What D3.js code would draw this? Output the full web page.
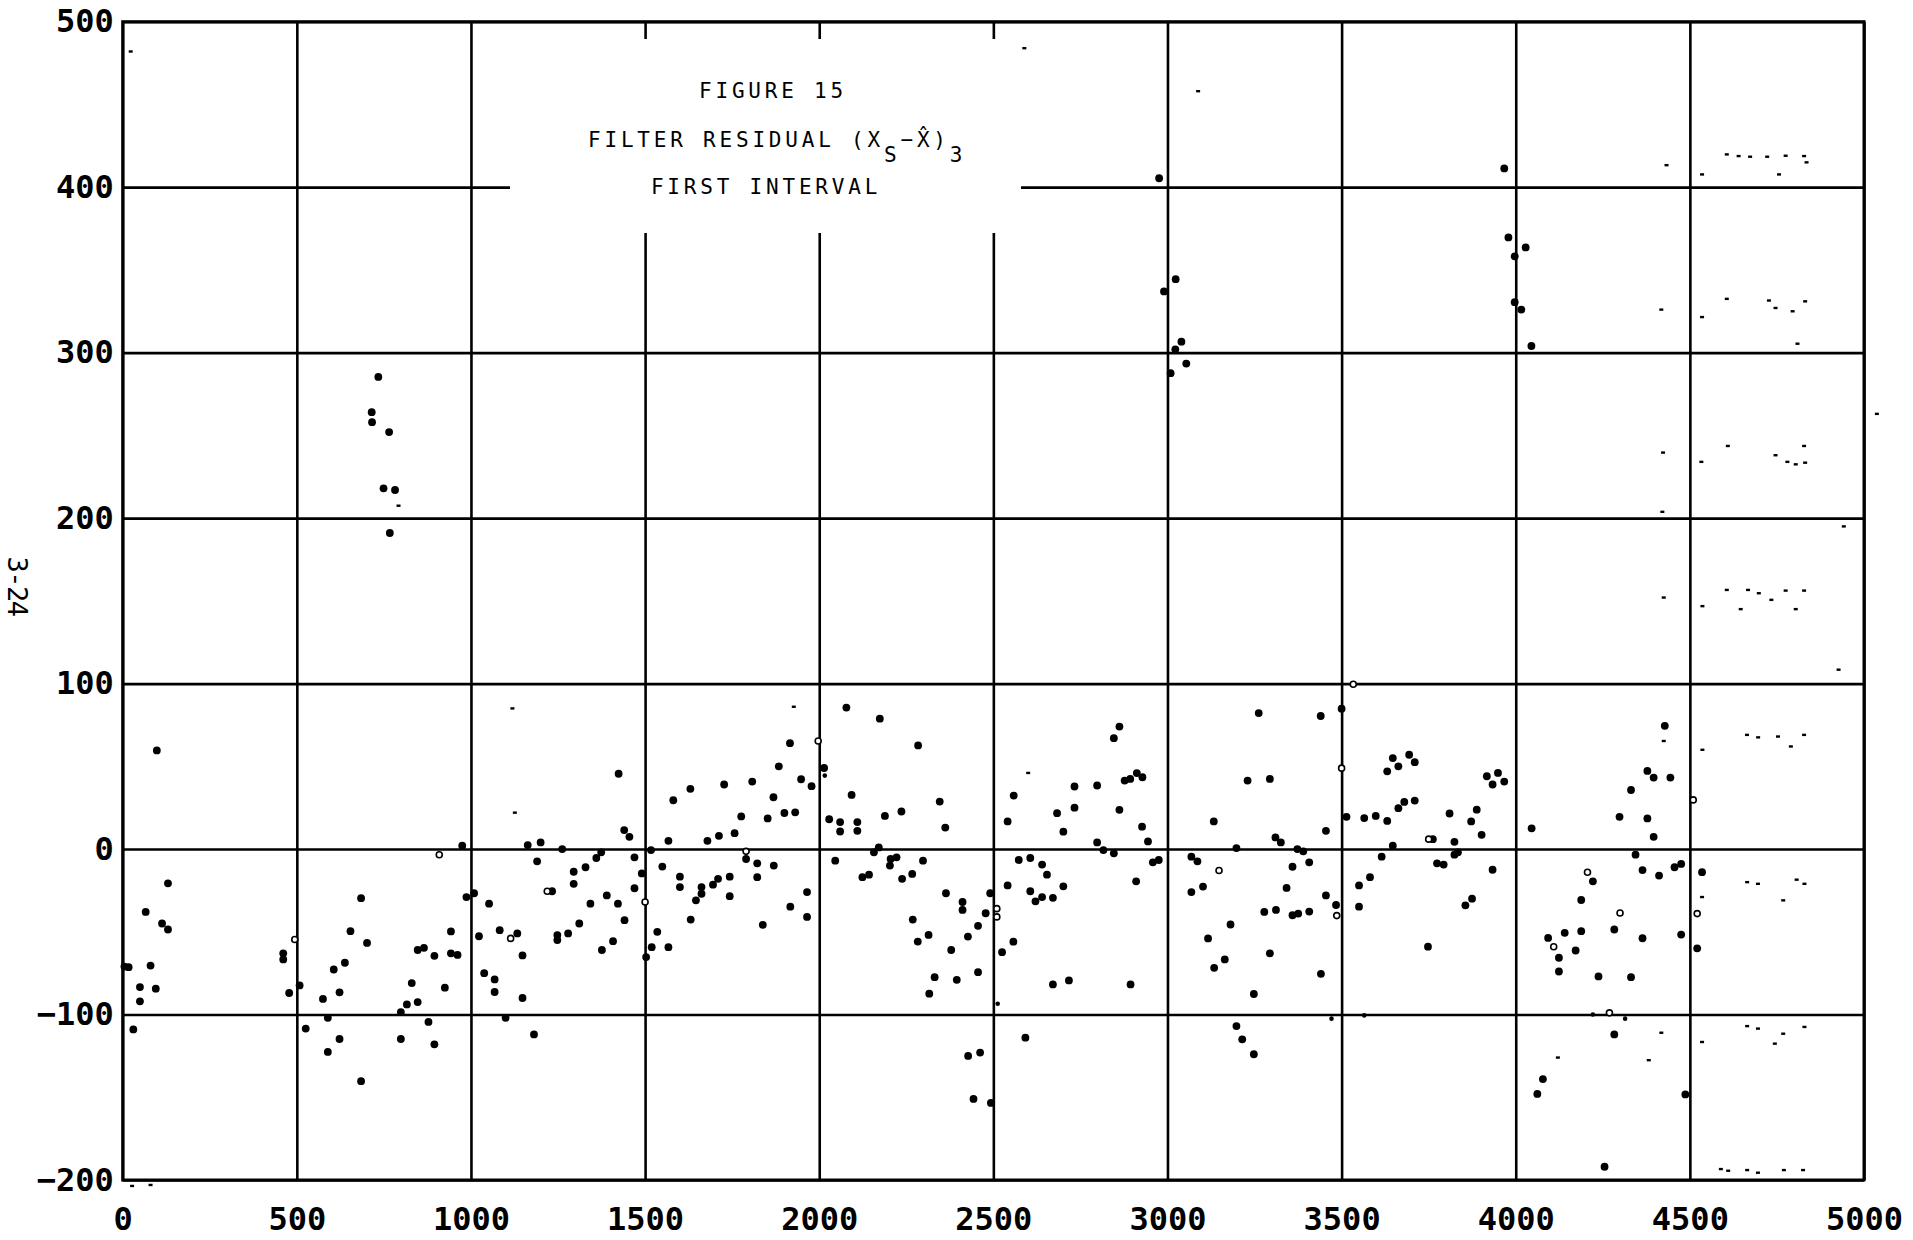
<!DOCTYPE html>
<html>
<head>
<meta charset="utf-8">
<script src="https://cdn.jsdelivr.net/npm/d3@7"></script>
<style>
  html, body { margin: 0; padding: 0; background: #fff; }
  svg { display: block; }
  .tick text { font-family: "DejaVu Sans Mono", monospace; font-size: 32px; font-weight: bold; fill: #000; }
  .title { font-family: "DejaVu Sans Mono", monospace; font-size: 21px; letter-spacing: 3.8px; fill: #000; }
  .page { font-family: "DejaVu Sans Mono", monospace; font-size: 27px; letter-spacing: -1.5px; fill: #000; }
</style>
</head>
<body>
<svg id="chart" width="1913" height="1240"></svg>
<script>
// Axis ticks
const xTicks = [0, 500, 1000, 1500, 2000, 2500, 3000, 3500, 4000, 4500, 5000];
const yTicks = [-200, -100, 0, 100, 200, 300, 400, 500];

// Filter residual samples [time, residual] plotted as solid dots
const residuals = [
  [5,-71],[17,-71.4],[30.5,-109],[49.5,-83.4],[49.5,-92],[66,-38],[80,-70.4],[95,-84.4],[98,59.6],[113,-45],[130,-20.7],[130,-48.6],
  [461,-63],[461,-66.7],[478,-87],
  [508,-82.4],[525.5,-108.5],[575,-90.6],[589,-102],[589,-122.6],[606,-72.8],[622.6,-86.6],[622.6,-114.8],[638,-68.7],[654,-49.6],[684.5,-29.7],[684.5,-140.3],[701.6,-56.7],
  [715,264],[716,258],[734,285.3],[765,252],[749,218],[782,217],[767,191],
  [798.7,-98.5],[798.7,-114.8],[816,-93.9],[830,-81],[847,-61],[865,-59.7],[847,-92.5],[878,-104.5],[895,-64.5],[895,-118],[925,-83.8],[942.5,-49.8],[942.5,-63],[961.5,-64],[975,2],
  [987,-29],[1009,-26.7],[1023,-52.7],[1038,-75],[1052,-33],[1068,-78.8],[1068,-86.4],[1082.5,-49],[1099.5,-102],[1133,-51],[1148,-64.3],[1148,-90],[1163,2.4],[1181,-112],[1190,-7.4],[1200,4],
  [1233,-25.5],[1248,-52],[1248,-55],[1262,0],[1279,-51],[1295,-13.7],[1295,-21],[1311,-45],[1329,-11],[1343,-33],[1360,-5.4],[1374,-2],[1376,-61],[1390,-28],[1408,-55.7],[1422,-33],[1424,45.5],[1440,11.5],[1441,-43],[1455,7.4],[1469.5,-5],[1469.5,-23.7],[1490.5,-14.7],[1503,-65.3],
  [1517,-0.6],[1519,-59.3],[1535,-50],[1549.5,-10.6],[1567,-59.3],[1567,5],[1581,29.5],[1600,-16.7],[1600,-23],[1630,36.4],[1631,-42.6],[1646,-31],[1662,-23],[1662,-27],[1679,5],[1695,-21.5],[1709.5,-18],[1712,8],[1727,39],[1743,-16.7],[1743,-28.5],[1757,9.6],[1776,19.7],[1790,-6],[1807.6,40.8],[1822,-8.6],[1822,-17],[1838,-45.8],[1852,18.5],[1868.6,31.3],[1869.5,-10],[1884,50],[1900,21.8],[1916,64],[1917,-34.8],[1931,22.2],[1948,42.2],[1965,-26],[1965,-41],[1978,38],
  [2014,49],[2028.6,18],[2046,-7],[2060,16.3],[2060,10.6],[2078,85.5],[2093,32.7],[2109.5,16.3],[2109.5,11],[2124,-17],[2143,-15.5],[2157,-2],[2171,1],[2174,78.8],[2188.6,20],[2203,-10],[2205,-6],[2222,-5],[2236,22.7],[2238,-18],[2267,-15],[2268.6,-42.6],[2283,-55.9],[2284,62.6],[2298,-7],[2314,-51.9],[2316,-87.4],[2331.4,-77.4],[2346,28.7],[2362,13],[2364,-26.7],[2379,-61],[2395,-79],[2411.5,-32],[2411.5,-36.8],[2427,-52.9],[2427.6,-125],[2443,-151],[2456,-46.4],[2456,-74.4],[2462,-123],[2478,-38.8],[2491,-26.7],[2493,-153.4],
  [2525,-62.3],[2541,16.7],[2541,-22],[2557.5,-56],[2558.5,32.3],[2573,-6.6],[2592,-114],[2606,-5.4],[2606,-25.5],[2621,-31.6],[2640,-9.4],[2640,-29],[2654,-15.5],[2671,-29.5],[2671,-81.8],[2683,21.7],[2701,10.5],[2701,-22.5],[2717,-79.4],[2733,25],[2733,37.8],[2798,38.4],[2798,4],[2816,-0.6],[2846,-2.6],[2846,67],[2862,74],[2862,23.7],[2877,41.4],[2893,42.4],[2894,-81.8],[2910,-19.5],[2912,45.9],[2927,13.5],[2928,43.4],[2944,4.6],[2958,-8],[2975,-6.6],
  [2976,405.4],[2990,337],[3009,287.6],[3022.5,302],[3023.5,344.4],[3040,306.6],[3054,293.4],
  [3068.6,-4.6],[3068.6,-26],[3086,-7.4],[3102,-22.7],[3116.5,-54],[3133,16.7],[3134,-71.8],[3164.5,-66.7],[3181,-45.6],[3198,0.6],[3198,-107],[3214.6,-115],[3230,41.4],[3248,-87.6],[3248,-124],[3262,82.2],[3278,-38],[3294,42.4],[3294,-63],[3310,7],[3311.5,-36.8],[3325.5,4],[3342,-23.5],[3359,-10.7],[3359,-40],[3373,0],[3375.5,-39],[3390,-1.4],[3407,-8],[3407,-37.8],[3440,80.4],[3440.6,-75.4],[3455,11],[3455,-28],[3484,-33.8],[3500,84.8],
  [3514,19.5],[3550,-22],[3550,-34.8],[3565,18.7],[3581.5,-17],[3598,20],[3615,-4.6],[3631,17],[3631,47],[3647,2],[3647,55],[3663,24.7],[3663,50],[3680,28.5],[3694,57],[3710,29.3],[3710,52.5],[3762,6],[3748,-59],[3774,-8.6],[3793,-9.4],[3810,21.5],[3824,4.4],[3824,-3.4],[3834,-2],[3855.5,-34],[3872,16.7],[3874.5,-30],[3888,23.8],[3902,8.6],[3917,44],[3933.5,39],[3933.5,-12.5],[3949,46],[3967,40.8],
  [3967,411.3],[3979,369.6],[3997,358.2],[3997,330.5],[4016,326],[4028.5,363.6],[4045,304],
  [4045.6,12.5],[4062,-148],[4078,-139],[4093,-53.7],[4124,-65.7],[4124,-74],[4140.6,-50.6],[4172,-61.3],[4188,-30.8],[4188,-49.6],[4221.5,-19.5],[4237.6,-77],[4255,-192],[4283,-48.6],[4283,-112],[4298,19.5],[4331,35.7],[4331,-77.4],[4344,-3.4],[4364,-12.7],[4364,-53.9],[4378,47.2],[4378,18.5],[4396,43.2],[4396,7.4],[4411.5,-16],[4428,74.5],[4444,43.2],[4456,-11],[4475,-9],[4475,-51.7],[4487,-148.3],[4521,-60],[4535,-14]
];

// Samples plotted with the open symbol
const openResiduals = [
  [494,-54.7],[909,-3.4],[1114,-54],[1219,-25.5],[1500,-32],[1790,-1.4],[1997,65.3],[2510,-36],[2510,-41],[3148,-13],
  [3486,-40.2],[3500,48.9],[3533.5,99.6],[3750,6],[4109,-59],[4206,-14],[4269,-99],[4299.5,-38.6],[4509.7,29.7],[4521,-39]
];

// Faintly plotted samples
const faintResiduals = [
  [2016,44.4],[2512.5,-93.5],[3471,-102.5],[3565,-100.5],[4221.5,-100],[4314,-102.5]
];

// Stray plotter marks on the sheet
const strayMarks = [
  [4433,413.3],[4535,407.7],[4606,419.8],[4640,418.8],[4673,418.4],[4722,418.4],[4756,407.7],[4775,419],[4828,418.8],[4835,415],
  [4418,326],[4535,321.5],[4606,332.5],[4727,331.5],[4746,327],[4795,325],[4831,331],[4809,305.4],
  [4423,239.6],[4533,234],[4609,243.6],[4746,238],[4780,234],[4804,232.5],[4828,243.6],[4831,233.5],[4421,203.8],
  [4425,152],[4536,146.8],[4606,156.6],[4646,145],[4667,156.6],[4698,154.6],[4734,150.6],[4775,156.2],[4804,145],[4828,156.2],
  [4425,65.3],[4536,60],[4664,69],[4696,67.5],[4753,68],[4790,62],[4828,69],
  [4535,-29],[4664.5,-20],[4695.5,-21],[4768,-31],[4806.6,-18.5],[4829,-21],
  [4418,-111],[4535,-116.6],[4664.5,-107],[4695.5,-108.5],[4744,-117.6],[4768,-111.6],[4829,-107.5],
  [4589,-193.4],[4610,-194.4],[4664.5,-194],[4695.5,-195.6],[4770,-194],[4825,-194],
  [4942,195],[4927,108.4],[23,482],[2589,484],[3088,458],[792,207.5],[1119,85],[1126,22],[1927,86],[2600,46],
  [4121,-126],[4382,-127.6],[27,-203.6],[80,-203],[5037,263]
];

const titleLines = ["FIGURE 15", "FILTER RESIDUAL", "FIRST INTERVAL"];
const pageLabel = "3-24";

const svg = d3.select("#chart");
const W = 1913, H = 1240;
const plot = { left: 122.7, right: 1864, top: 21.7, bottom: 1180 };

svg.append("rect").attr("width", W).attr("height", H).attr("fill", "#fff");

const x = d3.scaleLinear().domain([0, 5000]).range([plot.left, plot.right]);
const y = d3.scaleLinear().domain([-200, 500]).range([plot.bottom, plot.top]);

// Grid + labels via axes
const gx = svg.append("g")
  .attr("transform", `translate(0,${plot.bottom})`)
  .call(d3.axisBottom(x).tickValues(xTicks).tickSize(-(plot.bottom - plot.top)).tickPadding(27).tickFormat(d3.format("d")));
const gy = svg.append("g")
  .attr("transform", `translate(${plot.left},0)`)
  .call(d3.axisLeft(y).tickValues(yTicks).tickSize(-(plot.right - plot.left)).tickPadding(9));
[gx, gy].forEach(g => {
  g.select(".domain").remove();
  g.selectAll(".tick line").attr("stroke", "#000").attr("stroke-width", 2.6);
});

// Frame
svg.append("rect")
  .attr("x", plot.left).attr("y", plot.top)
  .attr("width", plot.right - plot.left).attr("height", plot.bottom - plot.top)
  .attr("fill", "none").attr("stroke", "#000").attr("stroke-width", 3);

// Title block blanks the grid behind it
svg.append("rect")
  .attr("x", 510).attr("y", 39).attr("width", 511).attr("height", 194)
  .attr("fill", "#fff");

svg.append("text").attr("class", "title")
  .attr("x", 773).attr("y", 98).attr("text-anchor", "middle")
  .text(titleLines[0]);

const t2 = svg.append("text").attr("class", "title")
  .attr("x", 588).attr("y", 147);
t2.append("tspan").text(titleLines[1] + " (X");
t2.append("tspan").attr("dy", 15).text("S");
t2.append("tspan").attr("dy", -15).text("\u2212X\u0302)");
t2.append("tspan").attr("dy", 15).text("3");

svg.append("text").attr("class", "title")
  .attr("x", 766).attr("y", 194).attr("text-anchor", "middle")
  .text(titleLines[2]);

// Page number, rotated along the left margin
svg.append("text").attr("class", "page")
  .attr("transform", "translate(8,586) rotate(90)")
  .attr("text-anchor", "middle")
  .text(pageLabel);

// Stray marks
svg.append("g").selectAll("rect").data(strayMarks).join("rect")
  .attr("x", d => x(d[0]) - 2).attr("y", d => y(d[1]) - 1.2)
  .attr("width", 4).attr("height", 2.4)
  .attr("fill", "#000");

// Residual samples
svg.append("g").selectAll("circle").data(residuals).join("circle")
  .attr("cx", d => x(d[0])).attr("cy", d => y(d[1])).attr("r", 3.9)
  .attr("fill", "#000");

svg.append("g").selectAll("circle").data(openResiduals).join("circle")
  .attr("cx", d => x(d[0])).attr("cy", d => y(d[1])).attr("r", 3)
  .attr("fill", "#fff").attr("stroke", "#000").attr("stroke-width", 1.6);

svg.append("g").selectAll("circle").data(faintResiduals).join("circle")
  .attr("cx", d => x(d[0])).attr("cy", d => y(d[1])).attr("r", 2.3)
  .attr("fill", "#000");
</script>
</body>
</html>
